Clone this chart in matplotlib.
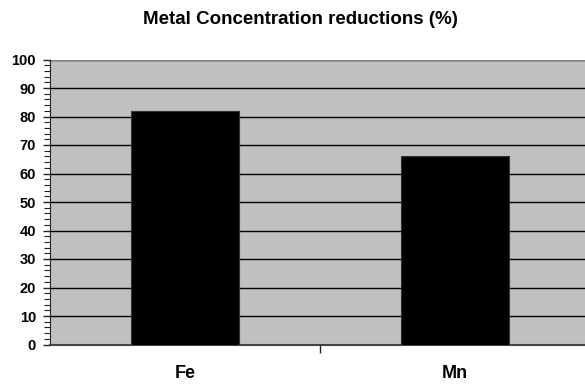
import matplotlib
matplotlib.use("Agg")
import matplotlib.pyplot as plt
from matplotlib.ticker import MultipleLocator, FixedLocator

metals = ["Fe", "Mn"]
reductions = [82, 66]
title = "Metal Concentration reductions (%)"

plt.rcParams["font.family"] = ["Liberation Sans", "DejaVu Sans"]
plt.rcParams["font.weight"] = "bold"

fig = plt.figure(figsize=(5.85, 3.85), dpi=100)
ax = fig.add_axes([50 / 585, 40.5 / 385, 540 / 585, 285 / 385])
ax.set_facecolor("#C0C0C0")

x = list(range(len(metals)))
ax.bar(x, reductions, width=0.4, color="black", edgecolor="#333333", linewidth=0.8, zorder=3)

ax.set_xlim(-0.5, len(metals) - 0.5)
ax.set_ylim(0, 100)

ax.yaxis.set_major_locator(MultipleLocator(10))
ax.yaxis.set_minor_locator(MultipleLocator(2))
ax.grid(axis="y", which="major", color="black", linewidth=1.0, zorder=1)
ax.set_axisbelow(True)

ax.set_xticks(x)
ax.set_xticklabels(metals, fontsize=13, fontweight="bold")
ax.tick_params(axis="x", which="major", length=0, pad=15)
ax.xaxis.set_minor_locator(FixedLocator([i + 0.5 for i in range(len(metals) - 1)]))
ax.tick_params(axis="x", which="minor", length=6, width=1, color="#222222")

ax.tick_params(axis="y", which="major", length=5, width=1, labelsize=10.5, pad=5, color="#222222")
ax.tick_params(axis="y", which="minor", length=4, width=0.8, color="#222222")
for lbl in ax.get_yticklabels():
    lbl.set_fontweight("bold")

for side in ["top", "right"]:
    ax.spines[side].set_visible(False)
ax.spines["left"].set_color("#222222")
ax.spines["bottom"].set_color("#444444")
ax.spines["bottom"].set_linewidth(1.5)
ax.axhline(100, color="#808080", linewidth=1.5, zorder=2)

fig.text(300 / 585, 1 - 23.5 / 385, title, ha="center", va="baseline", fontsize=13.5, fontweight="bold")

fig.savefig("out.png", dpi=100)
